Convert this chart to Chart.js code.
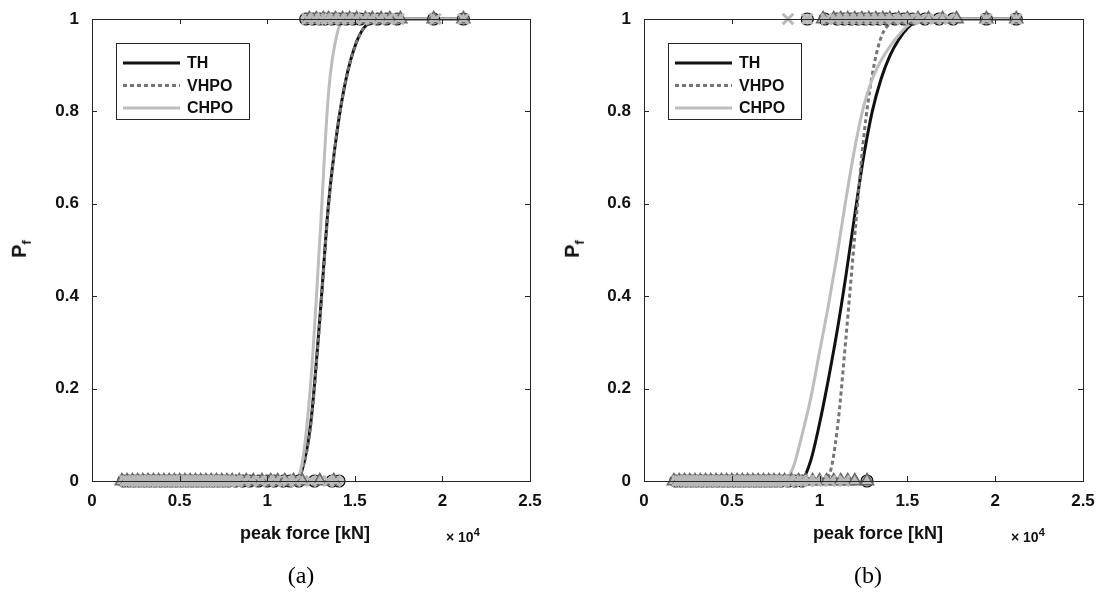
<!DOCTYPE html>
<html>
<head>
<meta charset="utf-8">
<script src="https://cdn.jsdelivr.net/npm/chart.js@4/dist/chart.umd.min.js"></script>
<style>
  body { margin: 0; background: #fff; }
  #page { position: relative; width: 1101px; height: 597px; font-family: "Liberation Sans", Arial, sans-serif; }
  .box { position: absolute; top: 0; width: 545px; height: 597px; }
  .lbl { position: absolute; font-weight: bold; color: #111; white-space: nowrap; }
  .xt { font-size: 18px; top: 523px; transform: translateX(-50%); }
  .sc { font-size: 14px; top: 526px; }
  .sc sup { font-size: 11px; }
  .yt { font-size: 20px; top: 236px; transform: rotate(-90deg); transform-origin: center; }
  .yt sub { font-size: 13px; }
  .cap { position: absolute; top: 562px; font-family: "Liberation Serif", "Times New Roman", serif; font-size: 24px; transform: translateX(-50%); }
</style>
</head>
<body>
<div id="page">
  <div class="box" style="left:0"><canvas id="chartA"></canvas></div>
  <div class="box" style="left:552px"><canvas id="chartB"></canvas></div>
  <div class="lbl yt" style="left:12px">P<sub>f</sub></div>
  <div class="lbl yt" style="left:565px">P<sub>f</sub></div>
  <div class="lbl xt" style="left:305px">peak force [kN]</div>
  <div class="lbl xt" style="left:878px">peak force [kN]</div>
  <div class="lbl sc" style="left:446px">× 10<sup>4</sup></div>
  <div class="lbl sc" style="left:1011px">× 10<sup>4</sup></div>
  <div class="cap" style="left:301px">(a)</div>
  <div class="cap" style="left:868px">(b)</div>
</div>
<script>
// axis ticks (x in units of 10^4 kN)
const xTicks = [0, 0.5, 1, 1.5, 2, 2.5];
const yTicks = [0, 0.2, 0.4, 0.6, 0.8, 1];
const seriesNames = ["TH", "VHPO", "CHPO"];

// fitted fragility curves, panel (a)
const gridA = [0.17, 1.1, 1.15, 1.2, 1.25, 1.3, 1.35, 1.4, 1.45, 1.5, 1.55, 1.6, 1.65, 2.12];
const thA   = [0, 0, 0.003, 0.025, 0.13, 0.35, 0.60, 0.76, 0.87, 0.94, 0.98, 0.995, 1, 1];
const vhpoA = [0, 0, 0.003, 0.024, 0.125, 0.345, 0.595, 0.76, 0.87, 0.94, 0.98, 0.995, 1, 1];
const chpoA = [0, 0, 0.002, 0.04, 0.22, 0.52, 0.84, 0.97, 0.997, 1, 1, 1, 1, 1];

// fitted fragility curves, panel (b)
const gridB = [0.17, 0.8, 0.85, 0.9, 0.95, 1.0, 1.05, 1.1, 1.15, 1.2, 1.25, 1.3, 1.35, 1.4, 1.45, 1.5, 1.55, 1.6, 2.12];
const thB   = [0, 0, 0, 0.003, 0.045, 0.125, 0.22, 0.325, 0.445, 0.575, 0.70, 0.80, 0.87, 0.92, 0.955, 0.98, 0.995, 1, 1];
const vhpoB = [0, 0, 0, 0, 0, 0.002, 0.01, 0.11, 0.31, 0.53, 0.74, 0.88, 0.96, 0.99, 1, 1, 1, 1, 1];
const chpoB = [0, 0, 0.03, 0.10, 0.18, 0.28, 0.38, 0.49, 0.61, 0.72, 0.81, 0.87, 0.91, 0.94, 0.965, 0.985, 0.997, 1, 1];

// observed peak forces: no failure (P=0) and failure (P=1), panel (a)
const thSafeA = [0.18, 0.21, 0.24, 0.27, 0.3, 0.33, 0.36, 0.39, 0.42, 0.45, 0.48, 0.51, 0.54, 0.57, 0.6, 0.63, 0.66, 0.69, 0.72, 0.75, 0.78, 0.82, 0.86, 0.9, 0.95, 1.0, 1.04, 1.09, 1.13, 1.18, 1.27, 1.37, 1.41];
const thFailA = [1.22, 1.26, 1.3, 1.33, 1.37, 1.41, 1.45, 1.49, 1.53, 1.58, 1.63, 1.68, 1.74, 1.95, 2.12];
const vhpoSafeA = [0.17, 0.2, 0.23, 0.26, 0.29, 0.32, 0.35, 0.38, 0.41, 0.44, 0.47, 0.5, 0.53, 0.56, 0.59, 0.62, 0.65, 0.68, 0.71, 0.74, 0.77, 0.8, 0.84, 0.88, 0.92, 0.97, 1.02, 1.06, 1.1, 1.15, 1.2, 1.3, 1.38];
const vhpoFailA = [1.24, 1.28, 1.32, 1.35, 1.39, 1.43, 1.47, 1.51, 1.56, 1.6, 1.65, 1.7, 1.76, 1.95, 2.12];
const chpoSafeA = [0.19, 0.205, 0.22, 0.235, 0.25, 0.265, 0.28, 0.295, 0.31, 0.325, 0.34, 0.355, 0.37, 0.385, 0.4, 0.415, 0.43, 0.445, 0.46, 0.475, 0.49, 0.505, 0.52, 0.535, 0.55, 0.565, 0.58, 0.595, 0.61, 0.625, 0.64, 0.655, 0.67, 0.685, 0.7, 0.715, 0.73, 0.745, 0.76, 0.775, 0.79, 0.81, 0.83, 0.87, 0.91, 0.96, 1.01, 1.05, 1.12, 1.16, 1.25, 1.35, 1.39];
const chpoFailA = [1.23, 1.27, 1.31, 1.34, 1.38, 1.42, 1.46, 1.5, 1.55, 1.59, 1.64, 1.69, 1.75, 1.96, 2.12];

// observed peak forces, panel (b)
const thSafeB = [0.18, 0.21, 0.24, 0.27, 0.3, 0.33, 0.36, 0.39, 0.42, 0.45, 0.48, 0.51, 0.54, 0.57, 0.6, 0.63, 0.66, 0.69, 0.72, 0.75, 0.78, 0.82, 0.86, 0.9, 1.27];
const thFailB = [0.93, 1.03, 1.1, 1.14, 1.18, 1.22, 1.26, 1.3, 1.34, 1.38, 1.43, 1.48, 1.53, 1.6, 1.68, 1.76, 1.95, 2.12];
const vhpoSafeB = [0.17, 0.2, 0.23, 0.26, 0.29, 0.32, 0.35, 0.38, 0.41, 0.44, 0.47, 0.5, 0.53, 0.56, 0.59, 0.62, 0.65, 0.68, 0.71, 0.74, 0.77, 0.8, 0.84, 0.88, 0.92, 0.96, 1.0, 1.04, 1.08, 1.12, 1.16, 1.2, 1.27];
const vhpoFailB = [1.02, 1.08, 1.12, 1.16, 1.2, 1.24, 1.28, 1.32, 1.36, 1.4, 1.45, 1.5, 1.56, 1.62, 1.7, 1.78, 1.95, 2.12];
const chpoSafeB = [0.19, 0.205, 0.22, 0.235, 0.25, 0.265, 0.28, 0.295, 0.31, 0.325, 0.34, 0.355, 0.37, 0.385, 0.4, 0.415, 0.43, 0.445, 0.46, 0.475, 0.49, 0.505, 0.52, 0.535, 0.55, 0.565, 0.58, 0.595, 0.61, 0.625, 0.64, 0.655, 0.67, 0.685, 0.7, 0.715, 0.73, 0.745, 0.76, 0.775, 0.79, 0.8, 0.83, 0.87, 0.9, 0.94, 0.98, 1.06, 1.14];
const chpoFailB = [0.82, 0.93, 1.04, 1.09, 1.13, 1.17, 1.21, 1.25, 1.29, 1.33, 1.37, 1.42, 1.47, 1.52, 1.58, 1.66, 1.74, 1.95, 2.12];

const lineColors = ["#111111", "#757575", "#bdbdbd"];
const font = "Liberation Sans";

const toXY = (xs, ys) => xs.map((x, i) => ({ x: x, y: ys[i] }));
const marks = (safe, fail) => safe.map(x => ({ x: x, y: 0 })).concat(fail.map(x => ({ x: x, y: 1 })));

// keep tick labels from pushing the plot area in
const noOverflow = s => {
  s.paddingLeft = 0; s.paddingRight = 0; s.paddingTop = 0; s.paddingBottom = 0;
};

// box, inward ticks and the legend, drawn MATLAB style
const frame = {
  id: "frame",
  afterDraw(chart) {
    const c = chart.ctx, a = chart.chartArea;
    const sx = chart.scales.x, sy = chart.scales.y;
    c.save();
    c.strokeStyle = "#262626";
    c.lineWidth = 1;
    c.strokeRect(a.left + 0.5, a.top + 0.5, a.right - a.left, a.bottom - a.top);
    c.beginPath();
    xTicks.forEach(v => {
      const p = Math.round(sx.getPixelForValue(v)) + 0.5;
      c.moveTo(p, a.bottom); c.lineTo(p, a.bottom - 5);
      c.moveTo(p, a.top); c.lineTo(p, a.top + 5);
    });
    yTicks.forEach(v => {
      const p = Math.round(sy.getPixelForValue(v)) + 0.5;
      c.moveTo(a.left, p); c.lineTo(a.left + 5, p);
      c.moveTo(a.right, p); c.lineTo(a.right - 5, p);
    });
    c.stroke();

    // legend
    const lx = a.left + 24, ly = a.top + 24;
    c.fillStyle = "#fff";
    c.fillRect(lx, ly, 133, 76);
    c.strokeStyle = "#262626";
    c.strokeRect(lx + 0.5, ly + 0.5, 133, 76);
    c.font = "bold 16px " + font;
    c.textBaseline = "middle";
    seriesNames.forEach((name, i) => {
      const y = ly + 20 + i * 22.5;
      c.beginPath();
      c.strokeStyle = lineColors[i];
      c.lineWidth = 3;
      c.setLineDash(i === 1 ? [4, 3] : []);
      c.moveTo(lx + 7, y); c.lineTo(lx + 64, y);
      c.stroke();
      c.setLineDash([]);
      c.fillStyle = "#111";
      c.fillText(name, lx + 71, y + 1);
    });
    c.restore();
  }
};

function makeChart(id, grid, th, vhpo, chpo, thS, thF, vS, vF, cS, cF, padRight) {
  const curve = (label, ys, i) => ({
    label: label, data: toXY(grid, ys), showLine: true, pointRadius: 0,
    borderColor: lineColors[i], borderWidth: 3, borderDash: i === 1 ? [4, 3] : [],
    cubicInterpolationMode: "monotone", order: 10 - i, clip: false
  });
  new Chart(document.getElementById(id), {
    type: "scatter",
    data: {
      datasets: [
        { label: "TH obs", data: marks(thS, thF), pointStyle: "circle", pointRadius: 6,
          borderColor: "#111", backgroundColor: "#c4c4c4", borderWidth: 1.2, order: 3, clip: false },
        { label: "VHPO obs", data: marks(vS, vF), pointStyle: "triangle", pointRadius: 7.5,
          borderColor: "#6a6a6a", backgroundColor: "#bdbdbd", borderWidth: 1.6, order: 2, clip: false },
        { label: "CHPO obs", data: marks(cS, cF), pointStyle: "crossRot", pointRadius: 7.5,
          borderColor: "#b8b8b8", borderWidth: 3, order: 1, clip: false },
        curve("TH", th, 0),
        curve("VHPO", vhpo, 1),
        curve("CHPO", chpo, 2)
      ]
    },
    options: {
      responsive: true,
      maintainAspectRatio: false,
      animation: false,
      layout: { padding: { top: 19, right: padRight, left: 0, bottom: 0 } },
      plugins: { legend: { display: false }, tooltip: { enabled: false } },
      scales: {
        x: {
          type: "linear", min: 0, max: 2.5,
          afterBuildTicks: s => { s.ticks = xTicks.map(v => ({ value: v })); },
          afterFit: s => { s.height = 116; noOverflow(s); },
          grid: { display: false, drawTicks: false }, border: { display: false },
          ticks: { padding: 10, color: "#111", font: { family: font, size: 17, weight: "bold" }, maxRotation: 0,
                   callback: v => String(+v.toFixed(1)) }
        },
        y: {
          type: "linear", min: 0, max: 1,
          afterBuildTicks: s => { s.ticks = yTicks.map(v => ({ value: v })); },
          afterFit: s => { s.width = 92; noOverflow(s); },
          grid: { display: false, drawTicks: false }, border: { display: false },
          ticks: { padding: 13, color: "#111", font: { family: font, size: 17, weight: "bold" },
                   callback: v => String(+v.toFixed(1)) }
        }
      }
    },
    plugins: [frame]
  });
}

makeChart("chartA", gridA, thA, vhpoA, chpoA, thSafeA, thFailA, vhpoSafeA, vhpoFailA, chpoSafeA, chpoFailA, 15);
makeChart("chartB", gridB, thB, vhpoB, chpoB, thSafeB, thFailB, vhpoSafeB, vhpoFailB, chpoSafeB, chpoFailB, 14);
</script>
</body>
</html>
